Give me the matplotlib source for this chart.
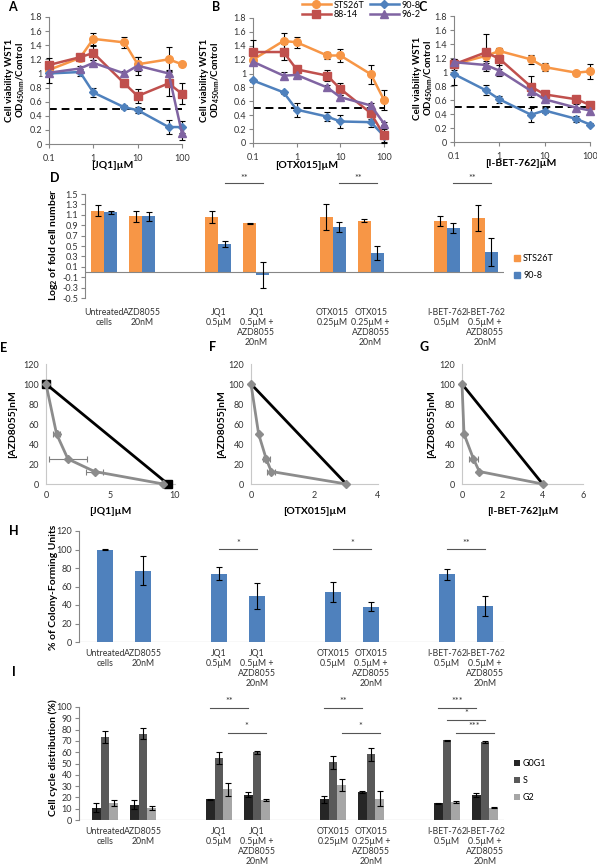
import matplotlib
matplotlib.use('Agg')
import matplotlib.pyplot as plt
import numpy as np
from matplotlib.lines import Line2D
from matplotlib.patches import Patch

plt.rcParams['font.family'] = ['Lato', 'DejaVu Sans']
plt.rcParams['mathtext.fontset'] = 'custom'
plt.rcParams['mathtext.rm'] = 'Lato:bold'
plt.rcParams['mathtext.it'] = 'Lato:bold'
plt.rcParams['mathtext.bf'] = 'Lato:bold'

# ---------------- data ----------------
conc = [0.1, 0.5, 1, 5, 10, 50, 100]
series_names = ['STS26T', '90-8', '88-14', '96-2']

A_sts26t = [1.05, 1.22, 1.49, 1.44, 1.13, 1.20, 1.13]
A_sts26t_err = [0.05, 0.03, 0.09, 0.08, 0.10, 0.18, 0.02]
A_908 = [1.00, 1.02, 0.73, 0.52, 0.48, 0.24, 0.24]
A_908_err = [0.14, 0.05, 0.07, 0.03, 0.04, 0.10, 0.08]
A_8814 = [1.12, 1.23, 1.29, 0.86, 0.68, 0.86, 0.71]
A_8814_err = [0.10, 0.05, 0.10, 0.05, 0.10, 0.18, 0.15]
A_962 = [1.01, 1.07, 1.15, 1.00, 1.11, 1.00, 0.15]
A_962_err = [0.03, 0.03, 0.04, 0.04, 0.13, 0.05, 0.10]

B_sts26t = [1.20, 1.47, 1.45, 1.26, 1.26, 0.99, 0.62]
B_sts26t_err = [0.03, 0.12, 0.08, 0.05, 0.10, 0.14, 0.14]
B_908 = [0.90, 0.73, 0.48, 0.38, 0.31, 0.30, 0.10]
B_908_err = [0.02, 0.02, 0.10, 0.07, 0.10, 0.07, 0.10]
B_8814 = [1.31, 1.31, 1.06, 0.97, 0.78, 0.43, 0.11]
B_8814_err = [0.17, 0.12, 0.05, 0.08, 0.09, 0.08, 0.10]
B_962 = [1.17, 0.97, 0.98, 0.80, 0.66, 0.54, 0.28]
B_962_err = [0.05, 0.05, 0.03, 0.04, 0.03, 0.03, 0.02]

C_sts26t = [1.11, 1.23, 1.30, 1.18, 1.07, 0.99, 1.01]
C_sts26t_err = [0.05, 0.10, 0.05, 0.06, 0.06, 0.03, 0.11]
C_908 = [0.97, 0.74, 0.61, 0.39, 0.45, 0.33, 0.25]
C_908_err = [0.15, 0.07, 0.05, 0.10, 0.04, 0.04, 0.02]
C_8814 = [1.11, 1.28, 1.19, 0.79, 0.68, 0.61, 0.53]
C_8814_err = [0.08, 0.26, 0.15, 0.15, 0.04, 0.03, 0.04]
C_962 = [1.14, 1.10, 1.02, 0.73, 0.61, 0.49, 0.45]
C_962_err = [0.05, 0.05, 0.08, 0.05, 0.03, 0.05, 0.03]

D_categories = ['Untreated\ncells', 'AZD8055\n20nM', '', 'JQ1\n0.5\u00b5M',
                'JQ1\n0.5\u00b5M +\nAZD8055\n20nM', '', 'OTX015\n0.25\u00b5M',
                'OTX015\n0.25\u00b5M +\nAZD8055\n20nM', '', 'I-BET-762\n0.5\u00b5M',
                'I-BET-762\n0.5\u00b5M +\nAZD8055\n20nM']
H_categories = ['Untreated\ncells', 'AZD8055\n20nM', '', 'JQ1\n0.5\u00b5M',
                'JQ1\n0.5\u00b5M +\nAZD8055\n20nM', '', 'OTX015\n0.5\u00b5M',
                'OTX015\n0.5\u00b5M +\nAZD8055\n20nM', '', 'I-BET-762\n0.5\u00b5M',
                'I-BET-762\n0.5\u00b5M +\nAZD8055\n20nM']
bar_slots = [0, 1, 3, 4, 6, 7, 9, 10]

D_sts26t = [1.18, 1.07, 1.06, 0.94, 1.06, 0.99, 0.98, 1.04]
D_sts26t_err = [0.10, 0.11, 0.12, 0.01, 0.25, 0.03, 0.10, 0.25]
D_908 = [1.15, 1.07, 0.54, -0.05, 0.87, 0.37, 0.85, 0.38]
D_908_err = [0.03, 0.09, 0.05, 0.25, 0.10, 0.13, 0.10, 0.27]

E_jq1 = [0, 0.82, 1.7, 3.76, 9.1]
E_jq1_err = [0, 0.27, 1.5, 0.65, 0]
E_azd = [100, 50, 25, 12.5, 0]
E_add_x = [0, 9.45]
E_add_y = [100, 0]

F_otx = [0, 0.24, 0.48, 0.64, 3.0]
F_otx_err = [0, 0.0, 0.11, 0.13, 0]
F_azd = [100, 50, 25, 12.5, 0]
F_add_x = [0, 3.0]
F_add_y = [100, 0]

G_ibet = [0, 0.10, 0.57, 0.86, 4.0]
G_ibet_err = [0, 0.0, 0.24, 0.0, 0]
G_azd = [100, 50, 25, 12.5, 0]
G_add_x = [0, 4.0]
G_add_y = [100, 0]

H_cfu = [100, 77, 74, 50, 54, 38, 73, 39]
H_cfu_err = [0.5, 15.5, 7, 14, 11, 5, 6, 11]

I_g0g1 = [11, 13.5, 18.5, 22.5, 18.3, 25, 14.7, 22]
I_g0g1_err = [4, 4, 0.5, 2, 3.2, 1, 0.5, 1.5]
I_s = [73.5, 76.5, 55, 60, 51, 58, 70.5, 69]
I_s_err = [5.5, 5, 5, 1.5, 6, 6, 0.5, 1]
I_g2 = [15, 10.5, 27, 18, 31, 19, 16, 11]
I_g2_err = [3, 2, 5.5, 1, 5, 7, 1, 0.5]

# ---------------- styling ----------------
W, H = 597, 867
fig = plt.figure(figsize=(W / 100, H / 100), dpi=100)
GRAY = '#868686'
TXT = '#333333'
ORANGE, BLUE, RED, PURPLE = '#F79646', '#4F81BD', '#C0504D', '#8064A2'


def ax_at(l, t, r, b):
    return fig.add_axes([l / W, 1 - b / H, (r - l) / W, (b - t) / H])


def T(x, y, s, **kw):
    kw.setdefault('ha', 'center')
    kw.setdefault('va', 'center')
    return fig.text(x / W, 1 - y / H, s, **kw)


def style(ax, size=7):
    for s in ['top', 'right']:
        ax.spines[s].set_visible(False)
    for s in ['left', 'bottom']:
        ax.spines[s].set_color(GRAY)
        ax.spines[s].set_linewidth(0.8)
    ax.tick_params(colors=GRAY, labelcolor=TXT, length=3, width=0.8, labelsize=size, pad=2)
    ax.set_facecolor('none')


def fmt(v):
    return ('%g' % round(v, 2))


# ---------------- A, B, C ----------------
curve_sets = [
    ((49, 17, 182, 144), [A_sts26t, A_908, A_8814, A_962], [A_sts26t_err, A_908_err, A_8814_err, A_962_err], '[JQ1]\u00b5M', 'A', (12, 7), (16, 80), (112, 166)),
    ((253, 18, 384, 143), [B_sts26t, B_908, B_8814, B_962], [B_sts26t_err, B_908_err, B_8814_err, B_962_err], '[OTX015]\u00b5M', 'B', (216, 7), (211, 80), (307, 165)),
    ((454, 16, 590, 142), [C_sts26t, C_908, C_8814, C_962], [C_sts26t_err, C_908_err, C_8814_err, C_962_err], '[I-BET-762]\u00b5M', 'C', (423, 7), (424, 78), (521, 164)),
]
colors = [ORANGE, BLUE, RED, PURPLE]
markers = ['o', 'D', 's', '^']
msizes = [5.5, 4.5, 5.5, 5.5]
for rect, vals, errs, xl, letter, lpos, ylpos, xlpos in curve_sets:
    ax = ax_at(*rect)
    style(ax, 6.5)
    ax.set_xscale('log')
    ax.set_xlim(0.1, 100)
    ax.set_ylim(0, 1.8)
    yt = np.round(np.arange(0, 1.81, 0.2), 1)
    ax.set_yticks(yt)
    ax.set_yticklabels([fmt(v) for v in yt])
    ax.set_xticks([0.1, 1, 10, 100])
    ax.set_xticklabels(['0.1', '1', '10', '100'])
    ax.minorticks_off()
    ax.tick_params(axis='x', pad=4)
    ax.axhline(0.5, color='black', ls=(0, (4, 2.5)), lw=1.4, zorder=1)
    for v, e, c, m, ms in zip(vals, errs, colors, markers, msizes):
        ax.errorbar(conc, v, yerr=e, color=c, marker=m, ms=ms, lw=1.8,
                    ecolor='black', elinewidth=0.8, capsize=2, capthick=0.8,
                    clip_on=False, zorder=3)
    T(lpos[0], lpos[1], letter, fontsize=9, fontweight='bold')
    T(ylpos[0], ylpos[1], 'Cell viability WST1\nOD$_{\\mathrm{450nm}}$/Control',
      rotation=90, fontsize=7, fontweight='bold', linespacing=1.1)
    T(xlpos[0], xlpos[1], xl, fontsize=7.5, fontweight='bold')

handles = [Line2D([], [], color=c, marker=m, ms=ms, lw=1.8) for c, m, ms in zip(colors, markers, msizes)]
fig.legend([handles[0], handles[2], handles[1], handles[3]],
           [series_names[0], series_names[2], series_names[1], series_names[3]],
           ncol=2, loc='upper left', bbox_to_anchor=(302 / W, 1 - 0.5 / H), frameon=False,
           fontsize=6.5, handlelength=3.2, handletextpad=0.3, columnspacing=0.6,
           labelspacing=0.05, borderpad=0, borderaxespad=0)

# ---------------- D ----------------
axD = ax_at(85, 194, 504, 298)
style(axD, 6.5)
axD.spines['bottom'].set_visible(False)
axD.set_xlim(-0.5, 10.5)
axD.set_ylim(-0.5, 1.5)
ytD = np.round(np.arange(-0.5, 1.51, 0.2), 1)
axD.set_yticks(ytD)
axD.set_yticklabels([fmt(v) for v in ytD])
axD.axhline(0, color=GRAY, lw=0.8)
xs = np.array(bar_slots, dtype=float)
bw = 0.34
axD.bar(xs - bw / 2, D_sts26t, bw, color=ORANGE, yerr=D_sts26t_err,
        error_kw=dict(elinewidth=0.8, capsize=2, capthick=0.8, ecolor='black'))
axD.bar(xs + bw / 2, D_908, bw, color=BLUE, yerr=D_908_err,
        error_kw=dict(elinewidth=0.8, capsize=2, capthick=0.8, ecolor='black'))
axD.set_xticks(range(11))
axD.set_xticklabels(D_categories, fontsize=6.3, linespacing=1.15, va='top')
axD.tick_params(axis='x', length=0, pad=7)
tr = axD.get_xaxis_transform()
for a, b in [(3, 4), (6, 7), (9, 10)]:
    axD.plot([a + bw / 2, b + bw / 2], [1.106, 1.106], color='#555555', lw=0.8, transform=tr, clip_on=False)
    axD.text((a + b) / 2 + bw / 2, 1.15, '**', transform=tr, ha='center', va='center', fontsize=6.5, color=TXT)
T(55, 178, 'D', fontsize=9, fontweight='bold')
T(53, 245, 'Log$_{\\mathrm{2}}$ of fold cell number', rotation=90, fontsize=7.5, fontweight='bold')
fig.legend([Patch(color=ORANGE), Patch(color=BLUE)], ['STS26T', '90-8'],
           loc='upper left', bbox_to_anchor=(514 / W, 1 - 254 / H), frameon=False,
           fontsize=6.5, handlelength=0.7, handleheight=0.7, handletextpad=0.3,
           labelspacing=0.9, borderpad=0, borderaxespad=0)

# ---------------- E, F, G ----------------
iso_sets = [
    ((46, 364, 175, 484), E_jq1, E_jq1_err, E_azd, E_add_x, E_add_y, (0, 10), [0, 5, 10], '[JQ1]\u00b5M', 'E', (4, 348), (13, 424), True),
    ((251, 364, 378, 484), F_otx, F_otx_err, F_azd, F_add_x, F_add_y, (0, 4), [0, 2, 4], '[OTX015]\u00b5M', 'F', (213, 347), (222, 424), False),
    ((462, 364, 583, 484), G_ibet, G_ibet_err, G_azd, G_add_x, G_add_y, (0, 6), [0, 2, 4, 6], '[I-BET-762]\u00b5M', 'G', (424, 347), (432, 424), False),
]
for rect, xv, xe, yv, ax_x, ax_y, xlim, xt, xl, letter, lpos, ylpos, sq in iso_sets:
    ax = ax_at(*rect)
    style(ax, 6.5)
    ax.spines['left'].set_color('#c8c8c8')
    ax.spines['bottom'].set_color('#c8c8c8')
    ax.tick_params(length=0, pad=5)
    ax.set_xlim(*xlim)
    ax.set_ylim(0, 120)
    ax.set_yticks(range(0, 121, 20))
    ax.set_xticks(xt)
    ax.plot(ax_x, ax_y, color='black', lw=2, marker='s' if sq else None, ms=6,
            clip_on=False, zorder=3)
    ax.errorbar(xv, yv, xerr=xe, color='#8c8c8c', marker='D', ms=4, lw=2,
                ecolor='#7f7f7f', elinewidth=0.8, capsize=2, capthick=0.8,
                clip_on=False, zorder=4)
    T(lpos[0], lpos[1], letter, fontsize=9, fontweight='bold')
    T(ylpos[0], ylpos[1], '[AZD8055]nM', rotation=90, fontsize=7.5, fontweight='bold')
    T((rect[0] + rect[2]) / 2, 512, xl, fontsize=7.5, fontweight='bold')

# ---------------- H ----------------
axH = ax_at(79, 531, 504, 642)
style(axH, 6.5)
axH.spines['bottom'].set_visible(False)
axH.set_xlim(-0.684, 10.5)
axH.set_ylim(0, 120)
axH.set_yticks(range(0, 121, 20))
axH.axhline(0, color=GRAY, lw=0.8)
axH.bar(xs, H_cfu, 0.42, color=BLUE, yerr=H_cfu_err,
        error_kw=dict(elinewidth=0.8, capsize=2, capthick=0.8, ecolor='black'))
axH.set_xticks(range(11))
axH.set_xticklabels(H_categories, fontsize=6.3, linespacing=1.15, va='top')
axH.tick_params(axis='x', length=0, pad=5)
for a, b, s in [(3, 4, '*'), (6, 7, '*'), (9, 10, '**')]:
    axH.plot([a, b], [100.5, 100.5], color='#555555', lw=0.8, clip_on=False)
    axH.text((a + b) / 2, 107, s, ha='center', va='center', fontsize=6.5, color=TXT)
T(14, 531, 'H', fontsize=9, fontweight='bold')
T(53, 587, '% of Colony-Forming Units', rotation=90, fontsize=7.5, fontweight='bold')

# ---------------- I ----------------
axI = ax_at(79, 707, 504, 820)
style(axI, 6.5)
axI.spines['bottom'].set_visible(False)
axI.set_xlim(-0.684, 10.5)
axI.set_ylim(0, 100)
axI.set_yticks(range(0, 101, 10))
axI.axhline(0, color=GRAY, lw=0.8)
w3 = 0.225
ek = dict(elinewidth=0.8, capsize=2, capthick=0.8, ecolor='black')
axI.bar(xs - w3, I_g0g1, w3, color='#262626', yerr=I_g0g1_err, error_kw=ek, label='G0G1')
axI.bar(xs, I_s, w3, color='#595959', yerr=I_s_err, error_kw=ek, label='S')
axI.bar(xs + w3, I_g2, w3, color='#A6A6A6', yerr=I_g2_err, error_kw=ek, label='G2')
axI.set_xticks(range(11))
axI.set_xticklabels(D_categories, fontsize=6.3, linespacing=1.15, va='top')
axI.tick_params(axis='x', length=0, pad=5)
sig_I = [(3 - w3, 4 - w3, 99, '**'), (3 + w3, 4 + w3, 77, '*'),
         (6 - w3, 7 - w3, 99, '**'), (6 + w3, 7 + w3, 77, '*'),
         (9 - w3, 10 - w3, 99, '***'), (9, 10, 88.5, '*'), (9 + w3, 10 + w3, 77, '***')]
for a, b, yv, s in sig_I:
    axI.plot([a, b], [yv, yv], color='#555555', lw=0.8, clip_on=False)
    axI.text((a + b) / 2, yv + 5.5, s, ha='center', va='center', fontsize=6.5, color=TXT)
T(14, 672, 'I', fontsize=9, fontweight='bold')
T(53, 758, 'Cell cycle distribution (%)', rotation=90, fontsize=7.5, fontweight='bold')
fig.legend(*axI.get_legend_handles_labels(), loc='upper left',
           bbox_to_anchor=(514 / W, 1 - 759 / H), frameon=False,
           fontsize=6.5, handlelength=0.7, handleheight=0.7, handletextpad=0.3,
           labelspacing=0.9, borderpad=0, borderaxespad=0)

fig.savefig('out.png', dpi=100)
